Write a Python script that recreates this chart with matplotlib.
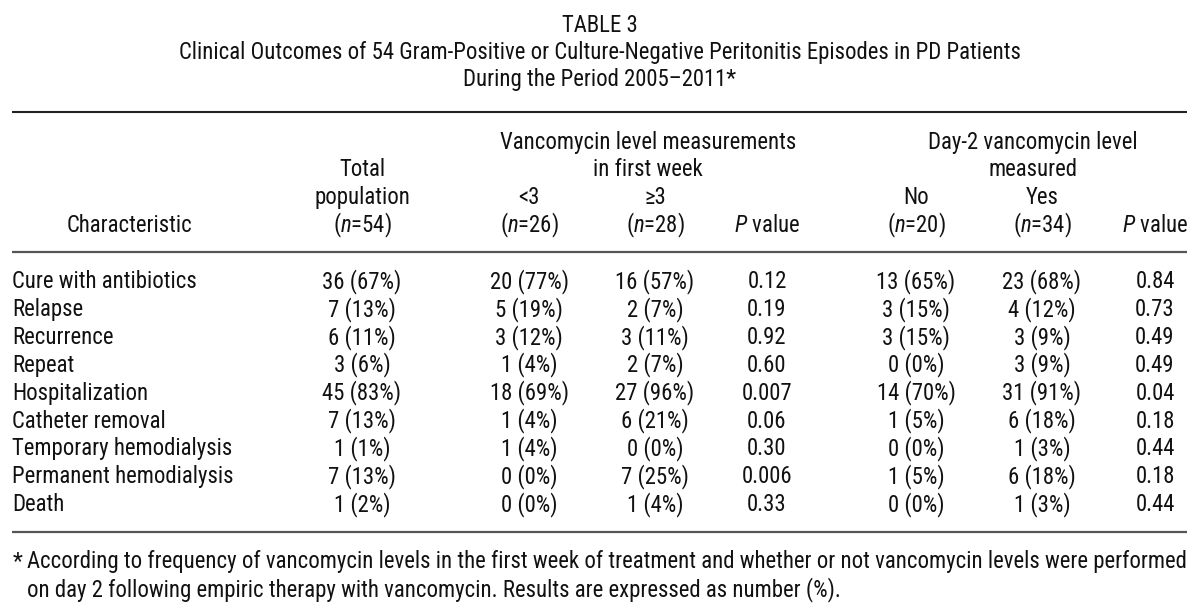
import matplotlib
matplotlib.use('Agg')
import matplotlib.pyplot as plt
from matplotlib import font_manager as fm

# ---------------- data ----------------
characteristics = ["Cure with antibiotics", "Relapse", "Recurrence", "Repeat",
                   "Hospitalization", "Catheter removal", "Temporary hemodialysis",
                   "Permanent hemodialysis", "Death"]
total_n = [36, 7, 6, 3, 45, 7, 1, 7, 1]
total_pct = [67, 13, 11, 6, 83, 13, 1, 13, 2]
lt3_n = [20, 5, 3, 1, 18, 1, 1, 0, 0]
lt3_pct = [77, 19, 12, 4, 69, 4, 4, 0, 0]
ge3_n = [16, 2, 3, 2, 27, 6, 0, 7, 1]
ge3_pct = [57, 7, 11, 7, 96, 21, 0, 25, 4]
p_week = ["0.12", "0.19", "0.92", "0.60", "0.007", "0.06", "0.30", "0.006", "0.33"]
no_n = [13, 3, 3, 0, 14, 1, 0, 1, 0]
no_pct = [65, 15, 15, 0, 70, 5, 0, 5, 0]
yes_n = [23, 4, 3, 3, 31, 6, 1, 6, 1]
yes_pct = [68, 12, 9, 9, 91, 18, 3, 18, 3]
p_day2 = ["0.84", "0.73", "0.49", "0.49", "0.04", "0.18", "0.44", "0.18", "0.44"]

title_lines = ["TABLE 3",
               "Clinical Outcomes of 54 Gram-Positive or Culture-Negative Peritonitis Episodes in PD Patients",
               "During the Period 2005\u20132011*"]
group1_header = ["Vancomycin level measurements", "in first week"]
group2_header = ["Day-2 vancomycin level", "measured"]
footnote_lines = ["According to frequency of vancomycin levels in the first week of treatment and whether or not vancomycin levels were performed",
                  "on day 2 following empiric therapy with vancomycin. Results are expressed as number (%)."]

# ---------------- font ----------------
names = {f.name for f in fm.fontManager.ttflist}
FONT = 'DejaVu Sans'
for cand in ['Liberation Sans Narrow', 'Roboto Condensed', 'Lato', 'Roboto']:
    if cand in names:
        FONT = cand
        break
plt.rcParams['font.family'] = [FONT, 'DejaVu Sans']
plt.rcParams['mathtext.fontset'] = 'custom'
plt.rcParams['mathtext.rm'] = FONT
plt.rcParams['mathtext.it'] = FONT + ':italic'

W, H = 1200, 611
fig = plt.figure(figsize=(W / 100, H / 100), dpi=100)
ax = fig.add_axes([0, 0, 1, 1])
ax.set_xlim(0, W)
ax.set_ylim(H, 0)
ax.axis('off')

# fit font size so the footnote line spans its width in the reference
r = fig.canvas.get_renderer()
t = ax.text(0, 0, footnote_lines[0], fontsize=10)
wpx = t.get_window_extent(renderer=r).width
t.remove()
FS = 10 * 1150 / wpx
size_px = FS * 100 / 72
cap_off = 0.36 * size_px
TXT = '#111111'


def put(x, y, s, ha='center'):
    ax.text(x, y + cap_off, s, fontsize=FS, ha=ha, va='baseline', color=TXT)


# title
for i, s in enumerate(title_lines):
    put(600, 24 + 27 * i, s)

# rules
ax.hlines([112], 12, 1187, color='#222222', lw=1.5)
ax.hlines([252, 532], 12, 1187, color='#555555', lw=1.6)

# columns
cx = {'total': 362, 'lt3': 529, 'ge3': 655, 'p1': 767, 'no': 916, 'yes': 1042, 'p2': 1155}
hy = [141, 168, 196, 224]

put(129, hy[3], "Characteristic")
put(cx['total'], hy[1], "Total")
put(cx['total'], hy[2], "population")
put(cx['total'], hy[3], "($n$=54)")
g1 = (cx['lt3'] + cx['p1']) / 2
put(g1, hy[0], group1_header[0])
put(g1, hy[1], group1_header[1])
put(cx['lt3'], hy[2], "<3")
put(cx['lt3'], hy[3], "($n$=26)")
put(cx['ge3'], hy[2], "\u22653")
put(cx['ge3'], hy[3], "($n$=28)")
put(cx['p1'], hy[3], "$P$ value")
g2 = (cx['no'] + cx['p2']) / 2 - 3
put(g2, hy[0], group2_header[0])
put(g2, hy[1], group2_header[1])
put(cx['no'], hy[2], "No")
put(cx['no'], hy[3], "($n$=20)")
put(cx['yes'], hy[2], "Yes")
put(cx['yes'], hy[3], "($n$=34)")
put(cx['p2'], hy[3], "$P$ value")

# body
row0, dy = 280, 27.875
for i, name in enumerate(characteristics):
    y = row0 + dy * i
    put(12, y, name, ha='left')
    put(cx['total'], y, f"{total_n[i]} ({total_pct[i]}%)")
    put(cx['lt3'], y, f"{lt3_n[i]} ({lt3_pct[i]}%)")
    put(cx['ge3'], y, f"{ge3_n[i]} ({ge3_pct[i]}%)")
    put(cx['p1'], y, p_week[i])
    put(cx['no'], y, f"{no_n[i]} ({no_pct[i]}%)")
    put(cx['yes'], y, f"{yes_n[i]} ({yes_pct[i]}%)")
    put(cx['p2'], y, p_day2[i])

# footnote
put(13, 560, "*", ha='left')
put(27, 560, footnote_lines[0], ha='left')
put(27, 588, footnote_lines[1], ha='left')

fig.savefig('out.png', dpi=100)
